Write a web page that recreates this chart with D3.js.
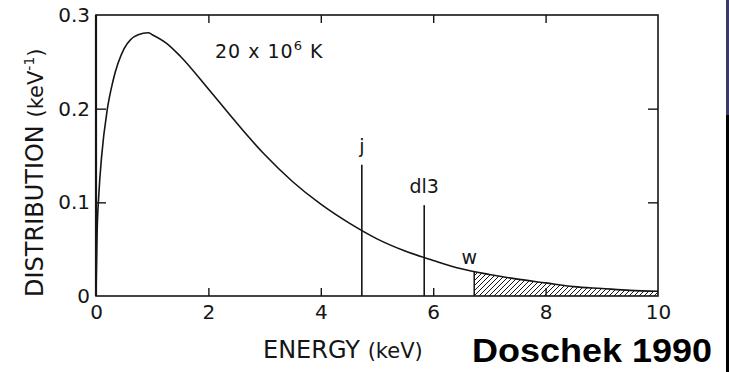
<!DOCTYPE html>
<html>
<head>
<meta charset="utf-8">
<script src="https://cdn.jsdelivr.net/npm/d3@7"></script>
<style>
  html, body { margin: 0; padding: 0; background: #fff; }
  svg { display: block; }
</style>
</head>
<body>
<svg id="chart" width="729" height="372"></svg>
<script>
// Maxwellian electron energy distribution at 20 x 10^6 K
const energy = [0, 0.02, 0.05, 0.1, 0.2, 0.3, 0.5, 0.75, 0.93, 1.0, 1.25, 1.5, 2, 2.5, 3, 3.5, 4, 4.5, 5, 5.5, 6, 6.5, 7, 7.5, 8, 8.5, 9, 9.5, 10];
const distribution = [0, 0.068, 0.108, 0.149, 0.199, 0.229, 0.264, 0.279, 0.281, 0.279, 0.270, 0.256, 0.221, 0.185, 0.151, 0.122, 0.098, 0.078, 0.061, 0.048, 0.038, 0.029, 0.023, 0.018, 0.014, 0.010, 0.008, 0.006, 0.005];

// Line threshold markers
const lineNames = ["j", "dl3"];
const lineEnergy = [4.73, 5.84];
const lineHeight = [0.14, 0.097];

// Shaded tail above the w threshold
const wEnergy = 6.73;
const wLabel = "w";

const xTicks = [0, 2, 4, 6, 8, 10];
const yTicks = [0, 0.1, 0.2, 0.3];
const yTickLabels = ["0", "0.1", "0.2", "0.3"];

const ink = "#151515";
const plotFont = "'DejaVu Sans', 'Liberation Sans', sans-serif";
const svg = d3.select("#chart");

const x = d3.scaleLinear().domain([0, 10]).range([96, 658]);
const y = d3.scaleLinear().domain([0, 0.3]).range([296, 15]);

const points = energy.map((e, i) => [e, distribution[i]]);

// value of the curve at an arbitrary energy (linear between readings)
function valueAt(e) {
  const i = d3.bisectLeft(energy, e);
  if (i <= 0) return distribution[0];
  if (i >= energy.length) return distribution[energy.length - 1];
  const t = (e - energy[i - 1]) / (energy[i] - energy[i - 1]);
  return distribution[i - 1] + t * (distribution[i] - distribution[i - 1]);
}

function label(sel, size) {
  return sel.style("font-family", plotFont).style("font-size", size + "px").style("fill", ink);
}

// hatch pattern
const defs = svg.append("defs");
const pat = defs.append("pattern")
  .attr("id", "hatch").attr("patternUnits", "userSpaceOnUse")
  .attr("width", 5).attr("height", 5);
pat.append("path")
  .attr("d", "M0,5 L5,0 M-1,1 L1,-1 M4,6 L6,4")
  .attr("stroke", ink).attr("stroke-width", 1);

defs.append("clipPath").attr("id", "tail")
  .append("rect")
  .attr("x", x(wEnergy)).attr("y", y(0.3))
  .attr("width", x(10) - x(wEnergy)).attr("height", y(0) - y(0.3));

const curve = d3.curveMonotoneX;

// hatched tail area
svg.append("path")
  .datum(points)
  .attr("clip-path", "url(#tail)")
  .attr("fill", "url(#hatch)")
  .attr("d", d3.area().x(d => x(d[0])).y0(y(0)).y1(d => y(d[1])).curve(curve));

svg.append("line")
  .attr("x1", x(wEnergy)).attr("x2", x(wEnergy))
  .attr("y1", y(0)).attr("y2", y(valueAt(wEnergy)))
  .attr("stroke", ink).attr("stroke-width", 1.5);

// distribution curve
svg.append("path")
  .datum(points)
  .attr("fill", "none")
  .attr("stroke", ink)
  .attr("stroke-width", 1.6)
  .attr("d", d3.line().x(d => x(d[0])).y(d => y(d[1])).curve(curve));

// threshold lines
lineNames.forEach((name, i) => {
  svg.append("line")
    .attr("x1", x(lineEnergy[i])).attr("x2", x(lineEnergy[i]))
    .attr("y1", y(0)).attr("y2", y(lineHeight[i]))
    .attr("stroke", ink).attr("stroke-width", 1.6);
  svg.append("text")
    .attr("x", x(lineEnergy[i])).attr("y", y(lineHeight[i]) - 12)
    .attr("text-anchor", "middle")
    .call(label, 19)
    .text(name);
});

svg.append("text")
  .attr("x", x(wEnergy) - 5).attr("y", 264)
  .attr("text-anchor", "middle")
  .call(label, 19)
  .text(wLabel);

// frame with inward ticks
svg.append("rect")
  .attr("x", x(0)).attr("y", y(0.3))
  .attr("width", x(10) - x(0)).attr("height", y(0) - y(0.3))
  .attr("fill", "none").attr("stroke", ink).attr("stroke-width", 1.6);
svg.append("line")
  .attr("x1", x(0)).attr("x2", x(0)).attr("y1", y(0)).attr("y2", y(0.3))
  .attr("stroke", ink).attr("stroke-width", 2.2);

function styleAxis(g) {
  g.select(".domain").remove();
  g.selectAll(".tick line").attr("stroke", ink).attr("stroke-width", 1.4);
  g.selectAll(".tick text").call(label, 20);
}

const innerX = xTicks.filter(t => t > 0 && t < 10);
const innerY = yTicks.filter(t => t > 0 && t < 0.3);

// left axis: labels for all ticks, marks only inside
svg.append("g")
  .attr("transform", `translate(${x(0)},0)`)
  .call(d3.axisLeft(y).tickValues(yTicks).tickSize(-10).tickPadding(6)
    .tickFormat((d, i) => yTickLabels[i]))
  .call(styleAxis)
  .call(g => g.selectAll(".tick line").filter(d => d === 0 || d === 0.3).remove());

// right axis marks
svg.append("g")
  .attr("transform", `translate(${x(10)},0)`)
  .call(d3.axisRight(y).tickValues(innerY).tickSize(-10).tickFormat(""))
  .call(styleAxis);

// bottom axis
svg.append("g")
  .attr("transform", `translate(0,${y(0)})`)
  .call(d3.axisBottom(x).tickValues(xTicks).tickSize(-8).tickPadding(9)
    .tickFormat(d3.format("d")))
  .call(styleAxis)
  .call(g => g.selectAll(".tick line").filter(d => d === 0 || d === 10).remove());

// top axis marks
svg.append("g")
  .attr("transform", `translate(0,${y(0.3)})`)
  .call(d3.axisTop(x).tickValues(innerX).tickSize(-8).tickFormat(""))
  .call(styleAxis);

// temperature note
const note = svg.append("text")
  .attr("x", 215).attr("y", 58)
  .call(label, 19).style("letter-spacing", "1px");
note.append("tspan").text("20 x 10");
note.append("tspan").style("font-size", "13px").attr("dy", -8).text("6");
note.append("tspan").attr("dy", 8).text(" K");

// axis titles
const yt = svg.append("text")
  .attr("transform", "translate(43,297) rotate(-90)")
  .call(label, 24);
yt.append("tspan").text("DISTRIBUTION ");
yt.append("tspan").style("font-size", "21px").text("(keV");
yt.append("tspan").style("font-size", "14px").attr("dy", -9).text("-1");
yt.append("tspan").style("font-size", "21px").attr("dy", 9).text(")");

const xt = svg.append("text")
  .attr("x", 263).attr("y", 358)
  .call(label, 24);
xt.append("tspan").text("ENERGY ");
xt.append("tspan").style("font-size", "21px").text("(keV)");

// citation
svg.append("text")
  .attr("x", 472).attr("y", 362)
  .style("font-family", "'Liberation Sans', Arial, Helvetica, sans-serif")
  .style("font-weight", "bold")
  .style("font-size", "33px")
  .style("fill", "#000")
  .attr("textLength", 240)
  .attr("lengthAdjust", "spacingAndGlyphs")
  .text("Doschek 1990");

// edge strip
svg.append("rect").attr("x", 726).attr("y", 0).attr("width", 3).attr("height", 115).attr("fill", "#3b3a6b");
svg.append("rect").attr("x", 726).attr("y", 115).attr("width", 3).attr("height", 257).attr("fill", "#000");
</script>
</body>
</html>
